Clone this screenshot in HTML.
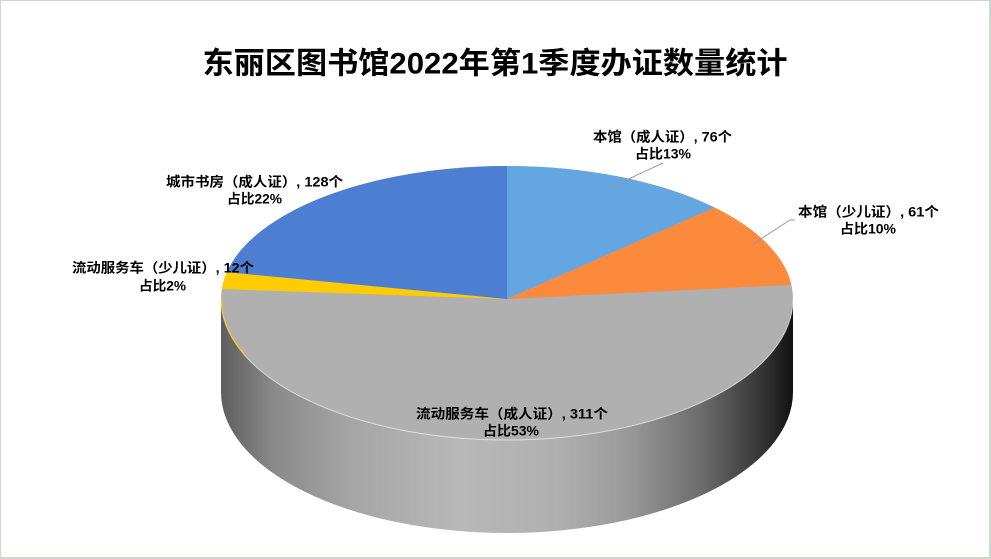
<!DOCTYPE html>
<html>
<head>
<meta charset="utf-8">
<style>
  html, body { margin:0; padding:0; background:#ffffff; }
  body { width:991px; height:559px; overflow:hidden; position:relative; }
  .frame { position:absolute; left:0; top:0; width:991px; height:559px; box-sizing:border-box;
           border-left:1px solid #cfd7cd; border-top:1px solid #cfd7cd;
           border-right:2px solid #cfd7cd; border-bottom:2px solid #cfd7cd; }
  svg { position:absolute; left:0; top:0; }
  text { font-family:"Liberation Sans","Noto Sans CJK SC",sans-serif; font-weight:bold; fill:#000; }
</style>
</head>
<body>
<div class="frame"></div>
<svg width="991" height="559" viewBox="0 0 991 559" xmlns="http://www.w3.org/2000/svg">
  <defs>
    <linearGradient id="side" x1="221" y1="0" x2="793" y2="0" gradientUnits="userSpaceOnUse">
      <stop offset="0" stop-color="#5f5f5f"/>
      <stop offset="0.044" stop-color="#737373"/>
      <stop offset="0.094" stop-color="#8a8a8a"/>
      <stop offset="0.226" stop-color="#a5a5a5"/>
      <stop offset="0.418" stop-color="#b8b8b8"/>
      <stop offset="0.581" stop-color="#b0b0b0"/>
      <stop offset="0.710" stop-color="#9a9a9a"/>
      <stop offset="0.839" stop-color="#6c6c6c"/>
      <stop offset="0.949" stop-color="#333333"/>
      <stop offset="1" stop-color="#111111"/>
    </linearGradient>
  </defs>

  <!-- Title -->
  <text x="495" y="64" font-size="30" text-anchor="middle" dominant-baseline="central"
        textLength="585" lengthAdjust="spacingAndGlyphs">东丽区图书馆2022年第1季度办证数量统计</text>

  <!-- Side of pie -->
  <path d="M221,299 A286,141 0 0 0 793,299 L793,392 A286,141 0 0 1 221,392 Z" fill="url(#side)"/>

  <!-- Gray top face (流动服务车 成人证) -->
  <path d="M221,299 A286,133 0 0 1 793,299 A286,141 0 0 1 221,299 Z" fill="#b0b0b0"/>

  <!-- Slices -->
  <path d="M507,299 L507,166 A286,133 0 0 1 714.54,207.49 Z" fill="#63a6e2"/>
  <path d="M507,299 L714.54,207.49 A286,133 0 0 1 791.37,284.82 Z" fill="#fb8a3c"/>
  <path d="M507,299 L221.80,289.06 A286,133 0 0 1 226.87,272.18 Z" fill="#ffcc00"/>
  <path d="M507,299 L226.87,272.18 A286,133 0 0 1 507,166 Z" fill="#4c7ed1"/>

  <!-- Edge highlights -->
  <path d="M221,299 A286,141 0 0 0 793,299" fill="none" stroke="#ffffff" stroke-opacity="0.55" stroke-width="1"/>
  <path d="M221.5,300 A286,141 0 0 0 245,355" fill="none" stroke="#ffcc00" stroke-width="1"/>

  <!-- Leader lines -->
  <polyline points="663,163 607,189" fill="none" stroke="#999999" stroke-width="1"/>
  <polyline points="795,220 790,220 753,244" fill="none" stroke="#999999" stroke-width="1"/>

  <!-- Labels -->
  <g font-size="13.5" text-anchor="middle" dominant-baseline="central">
    <text x="662.5" y="137" textLength="139" lengthAdjust="spacingAndGlyphs">本馆（成人证）, 76个</text>
    <text x="663" y="154" textLength="56" lengthAdjust="spacingAndGlyphs">占比13%</text>

    <text x="868.5" y="212" textLength="141" lengthAdjust="spacingAndGlyphs">本馆（少儿证）, 61个</text>
    <text x="868" y="229" textLength="56" lengthAdjust="spacingAndGlyphs">占比10%</text>

    <text x="254.5" y="182" textLength="177" lengthAdjust="spacingAndGlyphs">城市书房（成人证）, 128个</text>
    <text x="254.5" y="199" textLength="55" lengthAdjust="spacingAndGlyphs">占比22%</text>

    <text x="163" y="268" textLength="182" lengthAdjust="spacingAndGlyphs">流动服务车（少儿证）, 12个</text>
    <text x="162.5" y="286" textLength="47" lengthAdjust="spacingAndGlyphs">占比2%</text>

    <text x="512" y="414" textLength="192" lengthAdjust="spacingAndGlyphs">流动服务车（成人证）, 311个</text>
    <text x="511" y="431" textLength="56" lengthAdjust="spacingAndGlyphs">占比53%</text>
  </g>
</svg>
</body>
</html>
